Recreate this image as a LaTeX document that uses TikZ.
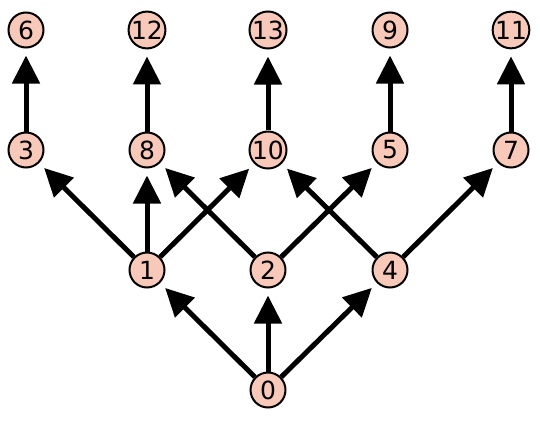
\documentclass[tikz,border=0pt]{standalone}
\usepackage{fontspec}
\setmainfont{DejaVu Sans}
\usetikzlibrary{arrows.meta,backgrounds}
\definecolor{nodefill}{RGB}{248,200,184}
\begin{document}
\begin{tikzpicture}[x=1pt,y=-1pt,
  vtx/.style={circle,draw=black,line width=2pt,fill=nodefill,minimum size=35pt,inner sep=0pt,font=\fontsize{25}{25}\selectfont},
  edge/.style={line width=5pt,-{Triangle[length=28pt,width=27pt]},shorten >=7pt}]
\useasboundingbox (0,0) rectangle (540,420);
\node[vtx] (n0) at (268,390) {0};
\node[vtx] (n1) at (147,270) {1};
\node[vtx] (n2) at (268,270) {2};
\node[vtx] (n4) at (390,270) {4};
\node[vtx] (n3) at (26,150) {3};
\node[vtx] (n8) at (147,150) {8};
\node[vtx] (n10) at (268,150) {10};
\node[vtx] (n5) at (390,150) {5};
\node[vtx] (n7) at (511,150) {7};
\node[vtx] (n6) at (26,30) {6};
\node[vtx] (n12) at (147,30) {12};
\node[vtx] (n13) at (268,30) {13};
\node[vtx] (n9) at (390,30) {9};
\node[vtx] (n11) at (511,30) {11};
\begin{scope}[on background layer]
\foreach \a/\b in {0/1,0/2,0/4,1/3,1/8,1/10,2/8,2/5,4/10,4/7,3/6,8/12,10/13,5/9,7/11}
  \draw[edge] (n\a) -- (n\b);
\end{scope}
\end{tikzpicture}
\end{document}
